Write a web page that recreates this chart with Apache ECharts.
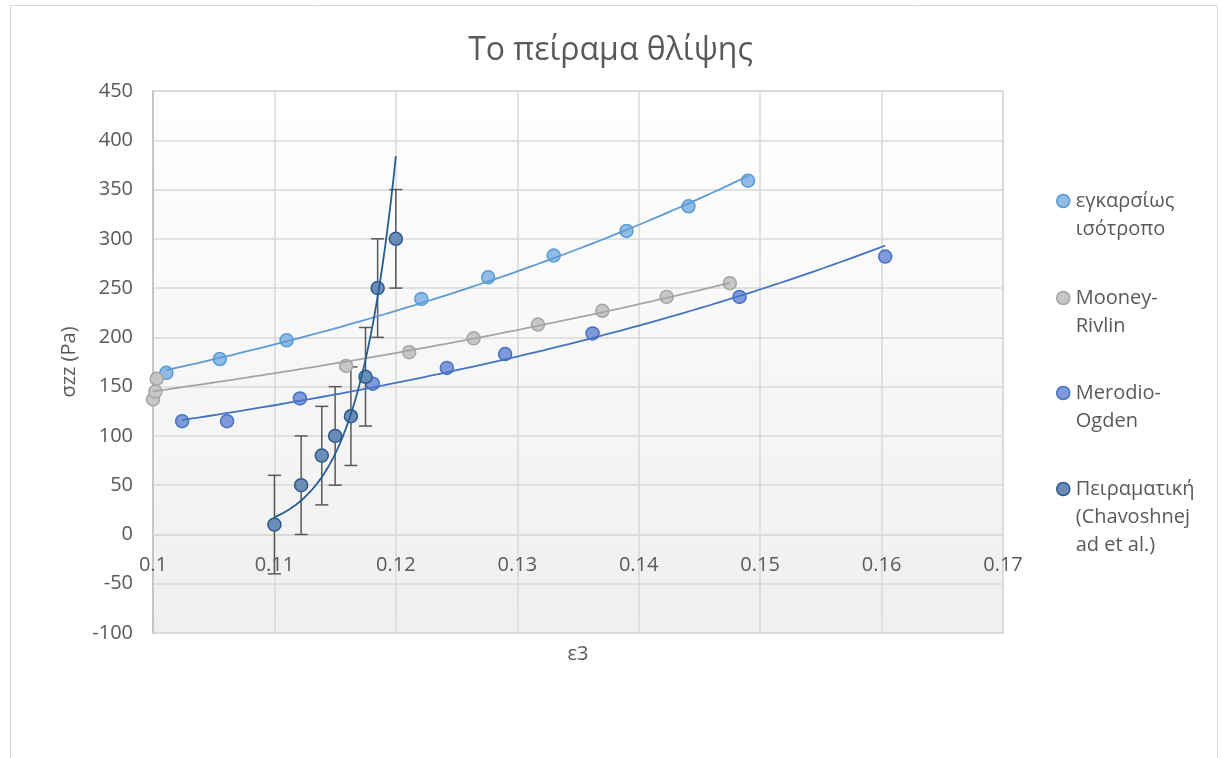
<!DOCTYPE html>
<html>
<head>
<meta charset="utf-8">
<script src="https://cdn.jsdelivr.net/npm/echarts@6/dist/echarts.min.js"></script>
<style>
  html, body { margin: 0; padding: 0; background: #ffffff; }
  #chart { width: 1221px; height: 758px; }
</style>
</head>
<body>
<div id="chart"></div>
<script>
// Compression test: axial stress σzz against strain ε3 for three models and the measurements.
const seriesNames = ['εγκαρσίως ισότροπο', 'Mooney-Rivlin', 'Merodio-Ogden', 'Πειραματική (Chavoshnejad et al.)'];
const legendLines = [
  ['εγκαρσίως', 'ισότροπο'],
  ['Mooney-', 'Rivlin'],
  ['Merodio-', 'Ogden'],
  ['Πειραματική', '(Chavoshnej', 'ad et al.)']
];

// transversely isotropic model
const isoX = [0.1011, 0.1055, 0.1110, 0.1221, 0.1276, 0.1330, 0.1390, 0.1441, 0.1490];
const isoY = [164, 178, 197, 239, 261, 283, 308, 333, 359];

// Mooney-Rivlin model
const mrX = [0.1000, 0.1002, 0.1003, 0.1159, 0.1211, 0.1264, 0.1317, 0.1370, 0.1423, 0.1475];
const mrY = [137, 145, 158, 171, 185, 199, 213, 227, 241, 255];

// Merodio-Ogden model
const moX = [0.1024, 0.1061, 0.1121, 0.1181, 0.1242, 0.1290, 0.1362, 0.1483, 0.1603];
const moY = [115, 115, 138, 153, 169, 183, 204, 241, 282];

// measurements with their error bars
const expX = [0.1100, 0.1122, 0.1139, 0.1150, 0.1163, 0.1175, 0.1185, 0.1200];
const expY = [10, 50, 80, 100, 120, 160, 250, 300];
const expErr = [50, 50, 50, 50, 50, 50, 50, 50];

// axis ticks
const xTicks = { min: 0.1, max: 0.17, step: 0.01 };
const yTicks = { min: -100, max: 450, step: 50 };

const colors = {
  iso:  { fill: '#8fbbe6', edge: '#5b9bd5', line: '#5b9bd5' },
  mr:   { fill: '#c6c6c6', edge: '#a5a5a5', line: '#a5a5a5' },
  mo:   { fill: '#7f99db', edge: '#4472c4', line: '#4472c4' },
  exp:  { fill: '#6b8cb6', edge: '#2b5b8c', line: '#255e91' }
};
const textColor = '#595959';
const fontFamily = '"Open Sans", "Noto Sans", sans-serif';

// plot box in pixels
const gridBox = { left: 153, right: 218, top: 91, bottom: 125 };
const chartH = 758;
const plotH = chartH - gridBox.top - gridBox.bottom;
// the category axis crosses the value axis at σzz = 0
const zeroLift = plotH * (0 - yTicks.min) / (yTicks.max - yTicks.min);

const zip = (xs, ys) => xs.map((x, i) => [x, ys[i]]);

// Exponential least-squares trendline y = a·e^(b·x), sampled between the first and last x
function expTrend(xs, ys, samples) {
  const n = xs.length;
  let sx = 0, sy = 0, sxx = 0, sxy = 0;
  for (let i = 0; i < n; i++) {
    const ly = Math.log(ys[i]);
    sx += xs[i]; sy += ly; sxx += xs[i] * xs[i]; sxy += xs[i] * ly;
  }
  const b = (n * sxy - sx * sy) / (n * sxx - sx * sx);
  const a = (sy - b * sx) / n;
  const x0 = Math.min(...xs), x1 = Math.max(...xs);
  const out = [];
  for (let k = 0; k <= samples; k++) {
    const x = x0 + (x1 - x0) * k / samples;
    out.push([x, Math.exp(a + b * x)]);
  }
  return out;
}

function scatter(name, data, c) {
  return {
    name: name, type: 'scatter', data: data, z: 3,
    symbol: 'circle', symbolSize: 13,
    itemStyle: { color: c.fill, borderColor: c.edge, borderWidth: 1.5, opacity: 1 }
  };
}
function trend(name, data, c) {
  return {
    name: name, type: 'line', data: data, z: 4,
    showSymbol: false, symbol: 'none', smooth: false,
    lineStyle: { color: c.line, width: 1.8 },
    silent: true
  };
}

const errorBars = {
  name: 'σφάλμα', type: 'custom', z: 2,
  data: expX.map((x, i) => [x, expY[i] - expErr[i], expY[i] + expErr[i]]),
  renderItem: function (params, api) {
    const lo = api.coord([api.value(0), api.value(1)]);
    const hi = api.coord([api.value(0), api.value(2)]);
    const cap = 6.5;
    const style = { stroke: '#595959', lineWidth: 1.5 };
    return {
      type: 'group',
      children: [
        { type: 'line', shape: { x1: lo[0], y1: lo[1], x2: hi[0], y2: hi[1] }, style: style },
        { type: 'line', shape: { x1: lo[0] - cap, y1: lo[1], x2: lo[0] + cap, y2: lo[1] }, style: style },
        { type: 'line', shape: { x1: hi[0] - cap, y1: hi[1], x2: hi[0] + cap, y2: hi[1] }, style: style }
      ]
    };
  }
};

// One legend block per series: blank lines in front keep the marker level with the first text line
const legendCenters = [199, 296, 391, 487];
const legendLineHeight = 28;
const legendKeys = ['iso', 'mr', 'mo', 'exp'];
const legends = seriesNames.map((name, i) => {
  const lines = legendLines[i];
  const padded = new Array(lines.length - 1).fill('').concat(lines);
  const blockH = padded.length * legendLineHeight;
  const c = colors[legendKeys[i]];
  return {
    orient: 'vertical',
    left: 1056,
    top: legendCenters[i] - blockH / 2 + 2,
    padding: 0,
    itemWidth: 13, itemHeight: 13, itemGap: 0,
    icon: 'circle',
    selectedMode: false,
    data: [{ name: name, itemStyle: { color: c.fill, borderColor: c.edge, borderWidth: 1.5 } }],
    formatter: () => padded.join('\n'),
    textStyle: { color: textColor, fontSize: 20, fontFamily: fontFamily, lineHeight: legendLineHeight, padding: [0, 0, 0, 1] }
  };
});

const option = {
  backgroundColor: '#ffffff',
  animation: false,
  title: {
    text: 'Το πείραμα θλίψης',
    left: 'center',
    top: 30,
    textStyle: { color: textColor, fontSize: 32, fontWeight: 'normal', fontFamily: fontFamily }
  },
  graphic: [{
    type: 'rect', silent: true, z: -10,
    shape: { x: 10.5, y: 5.5, width: 1207, height: 800 },
    style: { fill: 'none', stroke: '#d9d9d9', lineWidth: 1 }
  }],
  legend: legends,
  grid: {
    left: gridBox.left, right: gridBox.right, top: gridBox.top, bottom: gridBox.bottom,
    containLabel: false,
    outerBoundsMode: 'none',
    show: true,
    borderColor: '#d9d9d9', borderWidth: 1.5,
    backgroundColor: {
      type: 'linear', x: 0, y: 0, x2: 0, y2: 1,
      colorStops: [{ offset: 0, color: '#ffffff' }, { offset: 1, color: '#efefef' }]
    }
  },
  xAxis: {
    type: 'value',
    min: xTicks.min, max: xTicks.max, interval: xTicks.step,
    position: 'bottom',
    offset: -zeroLift,
    name: 'ε3', nameLocation: 'middle', nameGap: 110,
    nameTextStyle: { color: textColor, fontSize: 20, fontFamily: fontFamily },
    axisLine: { show: true, onZero: false, lineStyle: { color: '#d9d9d9', width: 1.5 } },
    axisTick: { show: false },
    axisLabel: {
      color: textColor, fontSize: 20, fontFamily: fontFamily, margin: 21,
      formatter: v => String(+v.toFixed(2))
    },
    splitLine: { show: true, lineStyle: { color: '#d9d9d9', width: 1.5 } }
  },
  yAxis: {
    type: 'value',
    min: yTicks.min, max: yTicks.max, interval: yTicks.step,
    name: 'σzz (Pa)', nameLocation: 'middle', nameGap: 74, nameRotate: 90,
    nameTextStyle: { color: textColor, fontSize: 20, fontFamily: fontFamily },
    axisLine: { show: true, onZero: false, lineStyle: { color: '#bfbfbf', width: 1.5 } },
    axisTick: { show: false },
    axisLabel: { color: textColor, fontSize: 20, fontFamily: fontFamily, margin: 20 },
    splitLine: { show: true, lineStyle: { color: '#d9d9d9', width: 1.5 } }
  },
  series: [
    errorBars,
    scatter(seriesNames[0], zip(isoX, isoY), colors.iso),
    scatter(seriesNames[1], zip(mrX, mrY), colors.mr),
    scatter(seriesNames[2], zip(moX, moY), colors.mo),
    scatter(seriesNames[3], zip(expX, expY), colors.exp),
    trend('τάση ισότροπο', expTrend(isoX, isoY, 80), colors.iso),
    trend('τάση Mooney-Rivlin', expTrend(mrX, mrY, 80), colors.mr),
    trend('τάση Merodio-Ogden', expTrend(moX, moY, 80), colors.mo),
    trend('τάση πειραματική', expTrend(expX, expY, 80), colors.exp)
  ]
};

const chart = echarts.init(document.getElementById('chart'), null, { renderer: 'canvas' });
chart.setOption(option);
</script>
</body>
</html>
